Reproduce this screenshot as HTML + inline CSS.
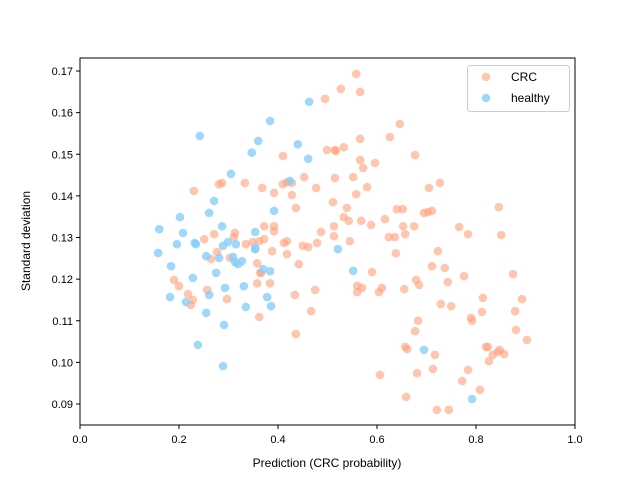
<!DOCTYPE html>
<html><head><meta charset="utf-8"><style>
body{margin:0;background:#fff}
svg{display:block;font-family:"Liberation Sans","DejaVu Sans",sans-serif}
</style></head><body>
<svg id="chart" width="640" height="480">
<rect x="0" y="0" width="640" height="480" fill="#fff"/>
<g id="marks"></g>
<g id="axes"></g>
</svg>
<script>
const xTicks=[0.0,0.2,0.4,0.6,0.8,1.0];
const xTickLabels=["0.0","0.2","0.4","0.6","0.8","1.0"];
const yTicks=[0.09,0.10,0.11,0.12,0.13,0.14,0.15,0.16,0.17];
const yTickLabels=["0.09","0.10","0.11","0.12","0.13","0.14","0.15","0.16","0.17"];
const crcX=[0.558,0.527,0.566,0.495,0.646,0.626,0.566,0.677,0.566,0.572,0.596,0.515,0.533,0.515,0.552,0.580,0.558,0.705,0.727,0.511,0.539,0.846,0.533,0.543,0.568,0.588,0.616,0.640,0.652,0.695,0.703,0.711,0.513,0.653,0.675,0.513,0.624,0.636,0.657,0.766,0.784,0.851,0.545,
0.638,0.723,0.711,0.737,0.776,0.875,0.590,0.560,0.570,0.560,0.604,0.610,0.655,0.679,0.685,0.743,0.814,0.893,0.729,0.750,0.812,0.879,0.790,0.792,0.683,0.677,0.881,0.903,0.657,0.661,0.717,0.820,0.824,0.848,0.844,0.834,0.857,0.826,0.713,0.784,0.606,0.681,0.772,0.808,0.659,0.721,0.745,
0.410,0.499,0.517,0.333,0.281,0.287,0.230,0.368,0.392,0.410,0.418,0.428,0.453,0.477,0.428,0.436,
0.251,0.271,0.313,0.311,0.335,0.349,0.362,0.372,0.372,0.392,0.392,0.412,0.418,0.450,0.461,0.479,0.487,0.277,0.265,0.303,0.388,0.418,0.442,0.358,0.366,0.190,
0.200,0.218,0.228,0.224,0.257,0.297,0.358,0.364,0.384,0.362,0.434,0.475,0.467,0.436];
const crcY=[0.1693,0.1657,0.1650,0.1633,0.1573,0.1541,0.1537,0.1498,0.1486,0.1467,0.1479,0.1510,0.1517,0.1443,0.1445,0.1421,0.1404,0.1419,0.1431,0.1385,0.1371,0.1373,0.1349,0.1340,0.1340,0.1330,0.1344,0.1368,0.1368,0.1359,0.1361,0.1364,0.1327,0.1327,0.1327,0.1303,0.1301,0.1301,0.1308,0.1325,0.1308,0.1306,0.1291,
0.1262,0.1267,0.1231,0.1227,0.1207,0.1212,0.1217,0.1184,0.1179,0.1169,0.1169,0.1179,0.1176,0.1198,0.1186,0.1193,0.1155,0.1152,0.1140,0.1135,0.1121,0.1123,0.1107,0.1100,0.1100,0.1075,0.1078,0.1054,0.1037,0.1032,0.1018,0.1037,0.1037,0.1030,0.1025,0.1018,0.1020,0.1003,0.0984,0.0982,0.0970,0.0974,0.0955,0.0934,0.0917,0.0886,0.0886,
0.1496,0.1510,0.1508,0.1431,0.1428,0.1431,0.1412,0.1419,0.1407,0.1428,0.1433,0.1431,0.1445,0.1419,0.1402,0.1371,
0.1296,0.1308,0.1311,0.1301,0.1284,0.1289,0.1291,0.1296,0.1327,0.1327,0.1315,0.1287,0.1291,0.1280,0.1277,0.1287,0.1313,0.1265,0.1248,0.1251,0.1267,0.1260,0.1236,0.1238,0.1215,0.1198,
0.1183,0.1164,0.1150,0.1138,0.1174,0.1152,0.1190,0.1215,0.1190,0.1109,0.1162,0.1174,0.1123,0.1068];
const healthyX=[0.521,0.552,0.695,0.792,0.463,0.384,0.242,0.360,0.347,0.440,0.461,0.305,0.424,0.271,0.261,0.392,0.202,0.287,0.160,0.208,0.354,0.196,0.232,0.234,0.289,0.299,0.315,0.354,0.354,0.158,0.255,0.281,0.309,0.313,0.319,0.327,0.184,0.275,0.370,0.384,0.228,0.182,0.214,0.261,0.293,0.255,0.331,0.378,0.386,0.335,0.291,0.238,0.289];
const healthyY=[0.1272,0.1220,0.1030,0.0912,0.1626,0.1580,0.1544,0.1532,0.1504,0.1524,0.1489,0.1453,0.1436,0.1388,0.1359,0.1364,0.1349,0.1327,0.1320,0.1311,0.1313,0.1284,0.1287,0.1284,0.1280,0.1289,0.1284,0.1272,0.1274,0.1263,0.1255,0.1251,0.1253,0.1241,0.1236,0.1243,0.1231,0.1215,0.1224,0.1219,0.1203,0.1157,0.1145,0.1162,0.1179,0.1119,0.1183,0.1157,0.1135,0.1133,0.1090,0.1042,0.0991];

const NS="http://www.w3.org/2000/svg";
const L=80,R=575,T=58,B=425;
const sx=v=>L+(v-0)/(1-0)*(R-L);
const sy=v=>71+(0.17-v)/0.08*(404-71);
const marks=document.getElementById('marks');
const axes=document.getElementById('axes');
function mk(tag,attrs,parent){const e=document.createElementNS(NS,tag);for(const k in attrs)e.setAttribute(k,attrs[k]);parent.appendChild(e);return e;}

for(let i=0;i<crcX.length;i++){
  const c=mk('circle',{cx:sx(crcX[i]),cy:sy(crcY[i]),r:4.3,fill:'#FFA07A','fill-opacity':0.6},marks);
  
  
}
for(let i=0;i<healthyX.length;i++){
  const c=mk('circle',{cx:sx(healthyX[i]),cy:sy(healthyY[i]),r:4.3,fill:'#87CEFA','fill-opacity':0.8},marks);
  
  
}
const frame=mk('rect',{x:L,y:T,width:R-L,height:B-T,fill:'none',stroke:'#000','stroke-width':1},axes);


for(let i=0;i<xTicks.length;i++){
  const x=sx(xTicks[i]);
  mk('line',{x1:x,x2:x,y1:B,y2:B+4,stroke:'#000'},axes);
  const t=mk('text',{x:x,y:B+18,'text-anchor':'middle','font-size':11},axes);
  t.textContent=xTickLabels[i];
  
  
}
for(let i=0;i<yTicks.length;i++){
  const y=sy(yTicks[i]);
  mk('line',{x1:L-4,x2:L,y1:y,y2:y,stroke:'#000'},axes);
  const t=mk('text',{x:L-7,y:y+4,'text-anchor':'end','font-size':11},axes);
  t.textContent=yTickLabels[i];
  
  
}
</script>
<svg style="position:absolute;left:0;top:0" width="640" height="480">
<text x="327" y="467" text-anchor="middle" font-size="12" font-family="Liberation Sans, DejaVu Sans, sans-serif">Prediction (CRC probability)</text>
<text transform="translate(30,241) rotate(-90)" text-anchor="middle" font-size="12" font-family="Liberation Sans, DejaVu Sans, sans-serif">Standard deviation</text>
<g>
<rect x="467.5" y="65.5" width="102" height="46" rx="3" fill="#fff" fill-opacity="0.8" stroke="#ccc"/>
<circle cx="486" cy="77" r="4.3" fill="#FFA07A" fill-opacity="0.6"/>
<text x="511" y="81" font-size="12" font-family="Liberation Sans, DejaVu Sans, sans-serif">CRC</text>
<circle cx="486" cy="98" r="4.3" fill="#87CEFA" fill-opacity="0.8"/>
<text x="511" y="102" font-size="12" font-family="Liberation Sans, DejaVu Sans, sans-serif">healthy</text>
</g>
</svg>
</body></html>
